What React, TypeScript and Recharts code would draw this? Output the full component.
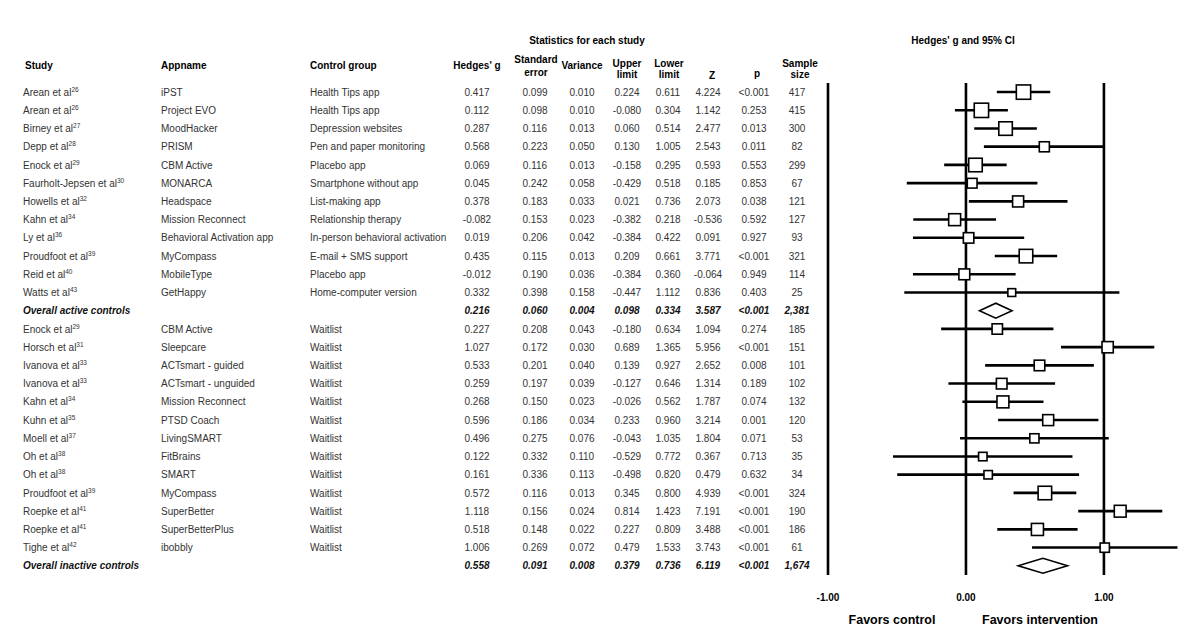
import React from 'react';
import { ComposedChart, Bar, Scatter, XAxis, YAxis, ReferenceLine, Label } from 'recharts';

// one entry per row, top to bottom ('' reference = pooled row)
const studyNames = [
  'Arean et al', 'Arean et al', 'Birney et al', 'Depp et al', 'Enock et al', 'Faurholt-Jepsen et al',
  'Howells et al', 'Kahn et al', 'Ly et al', 'Proudfoot et al', 'Reid et al', 'Watts et al',
  'Overall active controls',
  'Enock et al', 'Horsch et al', 'Ivanova et al', 'Ivanova et al', 'Kahn et al', 'Kuhn et al',
  'Moell et al', 'Oh et al', 'Oh et al', 'Proudfoot et al', 'Roepke et al', 'Roepke et al', 'Tighe et al',
  'Overall inactive controls',
];
const refNums = [
  '26', '26', '27', '28', '29', '30', '32', '34', '36', '39', '40', '43', '',
  '29', '31', '33', '33', '34', '35', '37', '38', '38', '39', '41', '41', '42', '',
];
const appNames = [
  'iPST', 'Project EVO', 'MoodHacker', 'PRISM', 'CBM Active', 'MONARCA', 'Headspace', 'Mission Reconnect',
  'Behavioral Activation app', 'MyCompass', 'MobileType', 'GetHappy', '',
  'CBM Active', 'Sleepcare', 'ACTsmart - guided', 'ACTsmart - unguided', 'Mission Reconnect', 'PTSD Coach',
  'LivingSMART', 'FitBrains', 'SMART', 'MyCompass', 'SuperBetter', 'SuperBetterPlus', 'ibobbly', '',
];
const controlGroups = [
  'Health Tips app', 'Health Tips app', 'Depression websites', 'Pen and paper monitoring', 'Placebo app',
  'Smartphone without app', 'List-making app', 'Relationship therapy', 'In-person behavioral activation',
  'E-mail + SMS support', 'Placebo app', 'Home-computer version', '',
  'Waitlist', 'Waitlist', 'Waitlist', 'Waitlist', 'Waitlist', 'Waitlist', 'Waitlist', 'Waitlist', 'Waitlist',
  'Waitlist', 'Waitlist', 'Waitlist', 'Waitlist', '',
];
const hedgesG = [
  0.417, 0.112, 0.287, 0.568, 0.069, 0.045, 0.378, -0.082, 0.019, 0.435, -0.012, 0.332, 0.216,
  0.227, 1.027, 0.533, 0.259, 0.268, 0.596, 0.496, 0.122, 0.161, 0.572, 1.118, 0.518, 1.006, 0.558,
];
const stdError = [
  0.099, 0.098, 0.116, 0.223, 0.116, 0.242, 0.183, 0.153, 0.206, 0.115, 0.190, 0.398, 0.060,
  0.208, 0.172, 0.201, 0.197, 0.150, 0.186, 0.275, 0.332, 0.336, 0.116, 0.156, 0.148, 0.269, 0.091,
];
const variance = [
  0.010, 0.010, 0.013, 0.050, 0.013, 0.058, 0.033, 0.023, 0.042, 0.013, 0.036, 0.158, 0.004,
  0.043, 0.030, 0.040, 0.039, 0.023, 0.034, 0.076, 0.110, 0.113, 0.013, 0.024, 0.022, 0.072, 0.008,
];
// column headings as printed ("Upper limit" holds the low end of the CI)
const upperLimit = [
  0.224, -0.080, 0.060, 0.130, -0.158, -0.429, 0.021, -0.382, -0.384, 0.209, -0.384, -0.447, 0.098,
  -0.180, 0.689, 0.139, -0.127, -0.026, 0.233, -0.043, -0.529, -0.498, 0.345, 0.814, 0.227, 0.479, 0.379,
];
const lowerLimit = [
  0.611, 0.304, 0.514, 1.005, 0.295, 0.518, 0.736, 0.218, 0.422, 0.661, 0.360, 1.112, 0.334,
  0.634, 1.365, 0.927, 0.646, 0.562, 0.960, 1.035, 0.772, 0.820, 0.800, 1.423, 0.809, 1.533, 0.736,
];
const zValues = [
  4.224, 1.142, 2.477, 2.543, 0.593, 0.185, 2.073, -0.536, 0.091, 3.771, -0.064, 0.836, 3.587,
  1.094, 5.956, 2.652, 1.314, 1.787, 3.214, 1.804, 0.367, 0.479, 4.939, 7.191, 3.488, 3.743, 6.119,
];
const pValues = [
  '<0.001', '0.253', '0.013', '0.011', '0.553', '0.853', '0.038', '0.592', '0.927', '<0.001', '0.949', '0.403', '<0.001',
  '0.274', '<0.001', '0.008', '0.189', '0.074', '0.001', '0.071', '0.713', '0.632', '<0.001', '<0.001', '<0.001', '<0.001', '<0.001',
];
const sampleSizes = [
  '417', '415', '300', '82', '299', '67', '121', '127', '93', '321', '114', '25', '2,381',
  '185', '151', '101', '102', '132', '120', '53', '35', '34', '324', '190', '186', '61', '1,674',
];
const xTicks = [-1, 0, 1];

const FONT = '"Liberation Sans", Arial, sans-serif';

const rows = studyNames.map((name, i) => {
  const overall = refNums[i] === '';
  return {
    key: `r${i}`,
    overall,
    ci: [Math.min(upperLimit[i], lowerLimit[i]), Math.max(upperLimit[i], lowerLimit[i])],
    g: overall ? null : hedgesG[i],
    variance: variance[i],
  };
});

const COL = { study: 23, app: 161, control: 310, g: 477, se: 535, v: 582, up: 627, low: 668, z: 708, p: 754, n: 797 };

const TableRow = (props: any) => {
  const { y, payload } = props;
  const i = Number(String(payload.value).slice(1));
  const overall = refNums[i] === '';
  const base = y + 3.5;
  const txt = overall
    ? { fontStyle: 'italic' as const, fontWeight: 700, fill: '#111' }
    : { fill: '#333' };
  const num = (x: number, v: string) => (
    <text x={x} y={base} textAnchor="middle" fontSize={10} fontFamily={FONT} {...txt}>{v}</text>
  );
  return (
    <g>
      <text x={COL.study} y={base} fontSize={10} fontFamily={FONT} {...txt}>
        <tspan>{studyNames[i]}</tspan>
        {refNums[i] && <tspan fontSize={6.5} dy={-4}>{refNums[i]}</tspan>}
      </text>
      <text x={COL.app} y={base} fontSize={10} fontFamily={FONT} {...txt}>{appNames[i]}</text>
      <text x={COL.control} y={base} fontSize={10} fontFamily={FONT} {...txt}>{controlGroups[i]}</text>
      {num(COL.g, hedgesG[i].toFixed(3))}
      {num(COL.se, stdError[i].toFixed(3))}
      {num(COL.v, variance[i].toFixed(3))}
      {num(COL.up, upperLimit[i].toFixed(3))}
      {num(COL.low, lowerLimit[i].toFixed(3))}
      {num(COL.z, zValues[i].toFixed(3))}
      {num(COL.p, pValues[i])}
      {num(COL.n, sampleSizes[i])}
    </g>
  );
};

const Headers = () => {
  const h = (x: number, y: number, t: string, anchor: 'start' | 'middle' = 'middle') => (
    <text x={x} y={y} textAnchor={anchor} fontSize={10} fontWeight={700} fontFamily={FONT} fill="#000">{t}</text>
  );
  return (
    <g>
      {h(587, 44, 'Statistics for each study')}
      {h(963, 44, "Hedges' g and 95% CI")}
      {h(25, 68.5, 'Study', 'start')}
      {h(161, 68.5, 'Appname', 'start')}
      {h(310, 68.5, 'Control group', 'start')}
      {h(COL.g, 69, "Hedges' g")}
      {h(COL.se + 1, 62.5, 'Standard')}
      {h(COL.se + 1, 75.5, 'error')}
      {h(COL.v, 69, 'Variance')}
      {h(COL.up, 66.5, 'Upper')}
      {h(COL.up, 78, 'limit')}
      {h(COL.low + 1, 66.5, 'Lower')}
      {h(COL.low + 1, 78, 'limit')}
      {h(712, 78.5, 'Z')}
      {h(757, 77, 'p')}
      {h(800, 66.5, 'Sample')}
      {h(800, 78, 'size')}
    </g>
  );
};

const Favors = () => (
  <g>
    <text x={892} y={624} textAnchor="middle" fontSize={12.5} fontWeight={700} fontFamily={FONT} fill="#000">Favors control</text>
    <text x={1040} y={624} textAnchor="middle" fontSize={12.5} fontWeight={700} fontFamily={FONT} fill="#000">Favors intervention</text>
  </g>
);

const XTick = (props: any) => {
  const { x, y, payload } = props;
  return (
    <text x={x} y={y} dy={18} textAnchor="middle" fontSize={10} fontWeight={700} fontFamily={FONT} fill="#000">
      {Number(payload.value).toFixed(2)}
    </text>
  );
};

const CiShape = (props: any) => {
  const { x, y, width, height, payload } = props;
  const x0 = Math.min(x, x + width);
  const w = Math.abs(width);
  const cy = y + height / 2;
  if (payload.overall) {
    const pts = `${x0},${cy} ${x0 + w / 2},${cy - 7.5} ${x0 + w},${cy} ${x0 + w / 2},${cy + 7.5}`;
    return <polygon points={pts} fill="#fff" stroke="#000" strokeWidth={1.6} />;
  }
  return <line x1={x0} x2={x0 + w} y1={cy} y2={cy} stroke="#000" strokeWidth={2.6} />;
};

const SquareShape = (props: any) => {
  const { cx, cy, payload } = props;
  if (cx == null || payload.overall) return <g />;
  const s = 5.2 * Math.pow(payload.variance, -0.22);
  return <rect x={cx - s / 2} y={cy - s / 2} width={s} height={s} fill="#fff" stroke="#000" strokeWidth={1.6} />;
};

export default function App() {
  return (
    <div style={{ position: 'absolute', left: 0, top: 0, width: 1200, height: 630, background: '#fff' }}>
      <ComposedChart
        width={1200}
        height={630}
        data={rows}
        layout="vertical"
        margin={{ top: 83, right: 6.4, bottom: 0, left: 0 }}
        barCategoryGap={0}
      >
        <XAxis
          type="number"
          domain={[-1.05, 1.65]}
          ticks={xTicks}
          allowDataOverflow
          axisLine={false}
          tickLine={false}
          tick={<XTick />}
          height={55}
        >
          <Label content={<Favors />} />
        </XAxis>
        <YAxis
          type="category"
          dataKey="key"
          width={821.1}
          axisLine={false}
          tickLine={false}
          interval={0}
          tick={<TableRow />}
        >
          <Label content={<Headers />} />
        </YAxis>
        {xTicks.map((t) => (
          <ReferenceLine key={t} x={t} stroke="#000" strokeWidth={2.6} />
        ))}
        <Bar dataKey="ci" barSize={4} shape={<CiShape />} isAnimationActive={false} />
        <Scatter dataKey="g" shape={<SquareShape />} isAnimationActive={false} />
      </ComposedChart>
    </div>
  );
}
